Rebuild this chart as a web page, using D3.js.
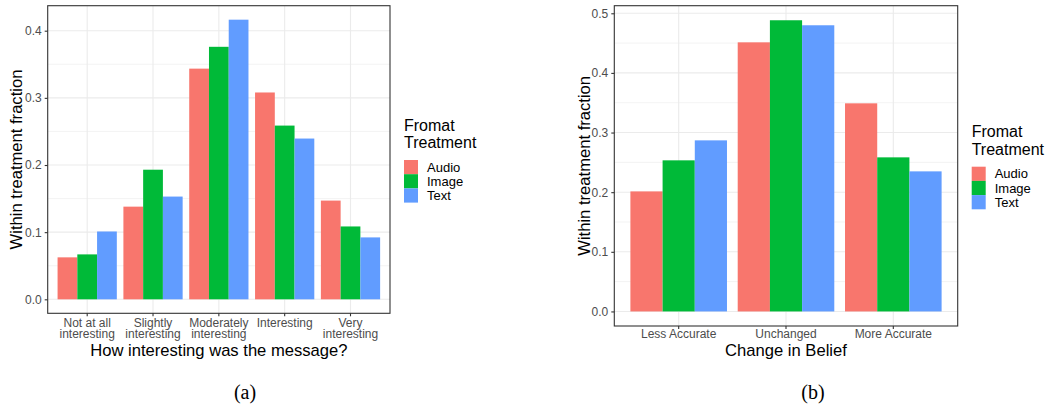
<!DOCTYPE html>
<html><head><meta charset="utf-8">
<script src="https://cdn.jsdelivr.net/npm/d3@7"></script>
<style>body{margin:0;background:#fff}svg{display:block}</style>
</head><body>
<svg id="c" width="1056" height="408"></svg>
<script>
const series = ["Audio", "Image", "Text"];
const colors = ["#F8766D", "#00BA38", "#619CFF"];
const legendTitle = ["Fromat", "Treatment"];

const catsA = [["Not at all","interesting"],["Slightly","interesting"],["Moderately","interesting"],["Interesting"],["Very","interesting"]];
const audioA = [0.0625, 0.138, 0.3435, 0.308, 0.147];
const imageA = [0.0669, 0.193, 0.376, 0.2587, 0.1085];
const textA  = [0.101, 0.153, 0.4164, 0.2394, 0.0922];
const ticksA = [0, 0.1, 0.2, 0.3, 0.4];

const catsB = [["Less Accurate"],["Unchanged"],["More Accurate"]];
const audioB = [0.2013, 0.4513, 0.349];
const imageB = [0.2534, 0.4883, 0.2584];
const textB  = [0.2869, 0.4799, 0.2349];
const ticksB = [0, 0.1, 0.2, 0.3, 0.4, 0.5];

const svg = d3.select("#c");
const FONT = "'Liberation Sans', Arial, sans-serif";

function panel(opt){
  const {x0,x1,y0,y1,cats,vals,ticks,xTitle,yTitleX,legX,legY,caption,capX,tickOff} = opt;
  const g = svg.append("g");
  const maxV = d3.max(vals.flat());
  const pad = maxV*0.05;
  const y = d3.scaleLinear().domain([-pad, maxV+pad]).range([y1,y0]);
  const idx = cats.map((d,i)=>i);
  const x = d3.scaleBand().domain(idx).range([x0,x1]).paddingInner(0).paddingOuter(0.1);
  const sub = d3.scaleBand().domain(series).range([0, x.bandwidth()*0.9]);
  // minor grid
  const minor = [];
  for (let i=0;i<ticks.length;i++){ const m = ticks[i]+0.05; if (y(m)>y0) minor.push(m); }
  const mn = ticks[0]-0.05; if (y(mn)<y1) minor.push(mn);
  g.selectAll(".mg").data(minor).enter().append("line")
    .attr("x1",x0).attr("x2",x1).attr("y1",d=>y(d)).attr("y2",d=>y(d))
    .attr("stroke","#ebebeb").attr("stroke-width",0.6);
  g.selectAll(".gy").data(ticks).enter().append("line")
    .attr("x1",x0).attr("x2",x1).attr("y1",d=>y(d)).attr("y2",d=>y(d))
    .attr("stroke","#ebebeb").attr("stroke-width",1.1);
  g.selectAll(".gx").data(idx).enter().append("line")
    .attr("x1",d=>x(d)+x.bandwidth()/2).attr("x2",d=>x(d)+x.bandwidth()/2)
    .attr("y1",y0).attr("y2",y1)
    .attr("stroke","#ebebeb").attr("stroke-width",1.1);
  // bars
  series.forEach((s,si)=>{
    g.selectAll(".b"+si).data(vals[si]).enter().append("rect")
      .attr("x",(d,i)=>x(i)+x.bandwidth()*0.05+sub(s))
      .attr("width",sub.bandwidth())
      .attr("y",d=>y(d)).attr("height",d=>y(0)-y(d))
      .attr("fill",colors[si]);
  });
  // border
  g.append("rect").attr("x",x0).attr("y",y0).attr("width",x1-x0).attr("height",y1-y0)
    .attr("fill","none").attr("stroke","#333333").attr("stroke-width",1.1);
  // y axis
  const ya = d3.axisLeft(y).tickValues(ticks).tickFormat(d3.format(".1f")).tickSize(3).tickPadding(3);
  const yg = g.append("g").attr("transform",`translate(${x0},0)`).call(ya);
  yg.select(".domain").remove();
  yg.selectAll(".tick line").attr("stroke","#333333").attr("stroke-width",1.1);
  yg.selectAll("text").attr("fill","#4d4d4d").style("font-family",FONT).style("font-size","12px");
  // x axis
  const xa = d3.axisBottom(x).tickSize(3).tickFormat("");
  const xg = g.append("g").attr("transform",`translate(0,${y1})`).call(xa);
  xg.select(".domain").remove();
  xg.selectAll(".tick line").attr("stroke","#333333").attr("stroke-width",1.1);
  idx.forEach(i=>{
    const t = g.append("text").attr("x",x(i)+x.bandwidth()/2).attr("y",y1+tickOff)
      .attr("text-anchor","middle").attr("fill","#4d4d4d")
      .style("font-family",FONT).style("font-size","12px");
    cats[i].forEach((line,li)=>{
      t.append("tspan").attr("x",x(i)+x.bandwidth()/2).attr("dy", li===0?0:11.6).text(line);
    });
  });
  g.append("text").attr("x",(x0+x1)/2).attr("y",355.5).attr("text-anchor","middle")
    .style("font-family",FONT).style("font-size","16.6px").attr("fill","#000").text(xTitle);
  g.append("text").attr("transform",`translate(${yTitleX},${(y0+y1)/2}) rotate(-90)`)
    .attr("text-anchor","middle").style("font-family",FONT).style("font-size","16.6px")
    .attr("fill","#000").text("Within treatment fraction");
  // legend
  legendTitle.forEach((t,i)=>{
    g.append("text").attr("x",legX).attr("y",legY+i*17.6).style("font-family",FONT)
      .style("font-size","16px").attr("fill","#000").text(t);
  });
  series.forEach((s,i)=>{
    const ky = legY+29.3+i*14.2;
    g.append("rect").attr("x",legX).attr("y",ky).attr("width",14).attr("height",14.2).attr("fill",colors[i]);
    g.append("text").attr("x",legX+23).attr("y",ky+11.7).style("font-family",FONT)
      .style("font-size","13px").attr("fill","#000").text(s);
  });
  svg.append("text").attr("x",capX).attr("y",399).attr("text-anchor","middle")
    .style("font-family","'Liberation Serif','DejaVu Serif',serif").style("font-size","20px")
    .attr("fill","#000").text(caption);
}

panel({x0:47.7,x1:390,y0:5.7,y1:313.3,cats:catsA,vals:[audioA,imageA,textA],ticks:ticksA,
  xTitle:"How interesting was the message?",yTitleX:21.5,legX:404,legY:130.7,caption:"(a)",capX:245,tickOff:13.4});
panel({x0:614.3,x1:957.7,y0:5.7,y1:326,cats:catsB,vals:[audioB,imageB,textB],ticks:ticksB,
  xTitle:"Change in Belief",yTitleX:590,legX:971.7,legY:137.4,caption:"(b)",capX:813,tickOff:12.3});
</script>
</body></html>
